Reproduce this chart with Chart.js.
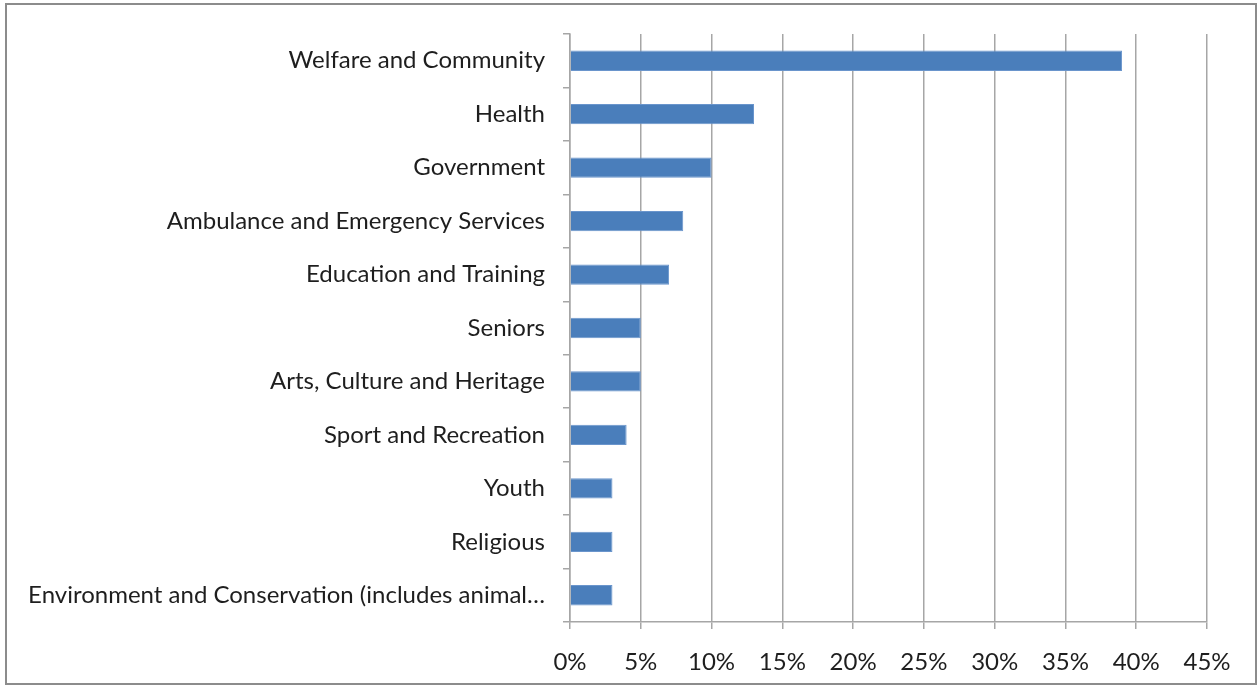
<!DOCTYPE html>
<html>
<head>
<meta charset="utf-8">
<script src="https://cdn.jsdelivr.net/npm/chart.js@4/dist/chart.umd.min.js"></script>
<style>
    html, body { margin: 0; padding: 0; background: #fff; }
    #wrap { position: relative; width: 1259px; height: 686px; }
    #frame {
        position: absolute; left: 5px; top: 3px; width: 1248px; height: 678px;
        border: 2px solid #8c8c8c; pointer-events: none;
    }
    canvas { position: absolute; left: 0; top: 0; }
</style>
</head>
<body>
<div id="wrap">
    <canvas id="chart" width="1259" height="686"></canvas>
    <div id="frame"></div>
</div>
<script>
// categories, top to bottom
const categories = [
    "Welfare and Community",
    "Health",
    "Government",
    "Ambulance and Emergency Services",
    "Education and Training",
    "Seniors",
    "Arts, Culture and Heritage",
    "Sport and Recreation",
    "Youth",
    "Religious",
    "Environment and Conservation (includes animal…"
];
const shares = [39, 13, 10, 8, 7, 5, 5, 4, 3, 3, 3]; // percent
const tickValues = [0, 5, 10, 15, 20, 25, 30, 35, 40, 45];

const FONT = "Lato, sans-serif";
const GRID = "#a6a6a6";

new Chart(document.getElementById("chart"), {
    type: "bar",
    data: {
        labels: categories,
        datasets: [{
            data: shares,
            backgroundColor: "#4a7ebb",
            borderColor: "#6a95cc",
            borderWidth: 1,
            categoryPercentage: 1,
            barPercentage: 0.38
        }]
    },
    options: {
        indexAxis: "y",
        responsive: false,
        animation: false,
        layout: { padding: { left: 0, right: 52, top: 34, bottom: 0 } },
        plugins: { legend: { display: false }, tooltip: { enabled: false } },
        scales: {
            x: {
                min: 0,
                max: 45,
                afterBuildTicks: scale => {
                    scale.ticks = tickValues.map(v => ({ value: v }));
                },
                afterFit: scale => { scale.height = 64; },
                grid: { color: GRID, lineWidth: 1.5, tickLength: 7 },
                border: { color: GRID, width: 1.5 },
                ticks: {
                    padding: 19,
                    color: "#1e1e1e",
                    font: { family: FONT, size: 24 },
                    callback: v => v + "%"
                }
            },
            y: {
                afterFit: scale => { scale.width = 570; },
                grid: { offset: true, drawOnChartArea: false, color: GRID, lineWidth: 1.5, tickLength: 7 },
                border: { color: GRID, width: 1.5 },
                ticks: {
                    padding: 18,
                    color: "#1e1e1e",
                    font: { family: FONT, size: 24 }
                }
            }
        }
    }
});
</script>
</body>
</html>
